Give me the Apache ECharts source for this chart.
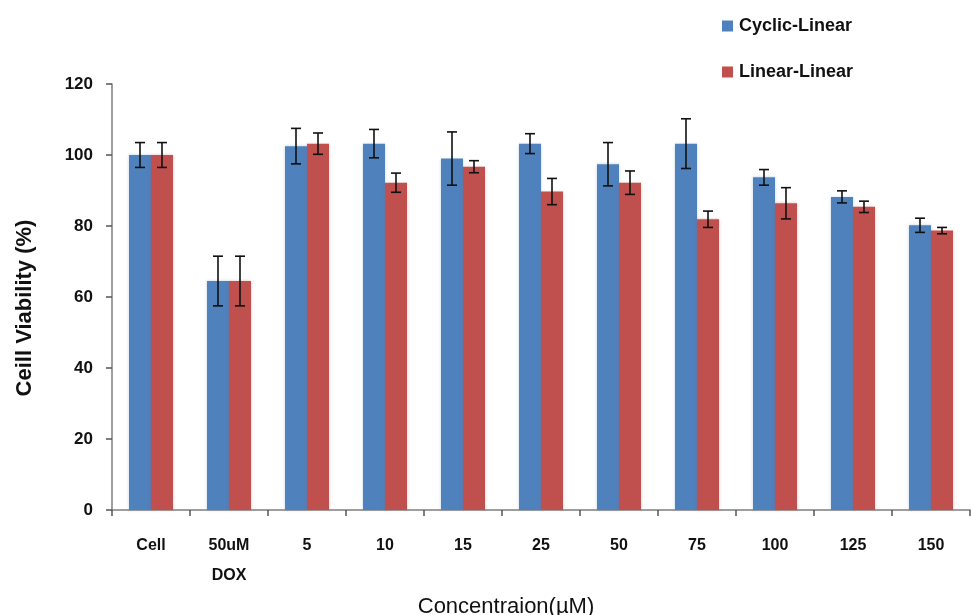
<!DOCTYPE html>
<html>
<head>
<meta charset="utf-8">
<script src="https://cdn.jsdelivr.net/npm/echarts@6/dist/echarts.min.js"></script>
<style>
html, body { margin: 0; padding: 0; background: #fff; }
#chart { width: 971px; height: 615px; }
</style>
</head>
<body>
<div id="chart"></div>
<script>
const categories = ['Cell', '50uM\nDOX', '5', '10', '15', '25', '50', '75', '100', '125', '150']
const cyclic = [100, 64.5, 102.5, 103.2, 99, 103.2, 97.4, 103.2, 93.7, 88.2, 80.2]
const cyclicErr = [3.5, 7, 5, 4, 7.5, 2.8, 6.1, 7, 2.2, 1.7, 2]
const linear = [100, 64.5, 103.2, 92.2, 96.7, 89.7, 92.2, 81.9, 86.4, 85.4, 78.7]
const linearErr = [3.5, 7, 3, 2.7, 1.7, 3.7, 3.3, 2.3, 4.4, 1.6, 0.9]
const yTicks = { min: 0, max: 120, interval: 20 }

const font = '"Liberation Sans", sans-serif'
const barW = 22

function errorSeries(name, vals, errs, offset) {
    return {
        name: name,
        type: 'custom',
        z: 10,
        data: vals.map((v, i) => [i, v - errs[i], v + errs[i]]),
        renderItem: (params, api) => {
            let lo = api.coord([api.value(0), api.value(1)])
            let hi = api.coord([api.value(0), api.value(2)])
            let x = lo[0] + offset
            let cap = 5
            let style = { stroke: '#111', lineWidth: 1.6 }
            return {
                type: 'group',
                children: [
                    { type: 'line', shape: { x1: x, y1: lo[1], x2: x, y2: hi[1] }, style: style },
                    { type: 'line', shape: { x1: x - cap, y1: lo[1], x2: x + cap, y2: lo[1] }, style: style },
                    { type: 'line', shape: { x1: x - cap, y1: hi[1], x2: x + cap, y2: hi[1] }, style: style }
                ]
            }
        }
    }
}

let chart = echarts.init(document.getElementById('chart'))
let option = {
    animation: false,
    textStyle: { fontFamily: font },
    grid: { left: 112, right: 1, top: 84, bottom: 105, outerBoundsMode: 'none' },
    legend: {
        orient: 'vertical',
        left: 717,
        top: 12,
        itemWidth: 11,
        itemHeight: 11,
        itemGap: 28,
        icon: 'rect',
        data: ['Cyclic-Linear', 'Linear-Linear'],
        textStyle: { fontFamily: font, fontSize: 18, fontWeight: 'bold', color: '#111', padding: [0, 0, 0, 1] }
    },
    xAxis: {
        type: 'category',
        data: categories,
        name: 'Concentraion(µM)',
        nameLocation: 'middle',
        nameGap: 73,
        nameTextStyle: { fontFamily: font, fontSize: 22, color: '#111', padding: [0, 70, 0, 0] },
        axisLine: { lineStyle: { color: '#7f7f7f', width: 1.5 } },
        axisTick: { show: true, length: 6, lineStyle: { color: '#555', width: 1.5 } },
        axisLabel: { margin: 21, fontSize: 16, fontWeight: 'bold', color: '#111', lineHeight: 30 }
    },
    yAxis: {
        type: 'value',
        min: yTicks.min,
        max: yTicks.max,
        interval: yTicks.interval,
        name: 'Ceill Viability (%)',
        nameLocation: 'middle',
        nameGap: 76,
        nameTextStyle: { fontFamily: font, fontSize: 22, fontWeight: 'bold', color: '#111', padding: [0, 22, 0, 0] },
        axisLine: { show: true, lineStyle: { color: '#7f7f7f', width: 1.5 } },
        axisTick: { show: true, length: 6, lineStyle: { color: '#555', width: 1.5 } },
        axisLabel: { margin: 19, fontSize: 17, fontWeight: 'bold', color: '#111' },
        splitLine: { show: false }
    },
    series: [
        {
            name: 'Cyclic-Linear',
            type: 'bar',
            barWidth: barW,
            barGap: '0%',
            itemStyle: { color: '#4F81BD', shadowColor: 'rgba(79,129,189,0.35)', shadowBlur: 3 },
            data: cyclic
        },
        {
            name: 'Linear-Linear',
            type: 'bar',
            barWidth: barW,
            barGap: '0%',
            itemStyle: { color: '#C0504D', shadowColor: 'rgba(192,80,77,0.35)', shadowBlur: 3 },
            data: linear
        },
        errorSeries('Cyclic-Linear', cyclic, cyclicErr, -barW / 2),
        errorSeries('Linear-Linear', linear, linearErr, barW / 2)
    ]
}
chart.setOption(option)
</script>
</body>
</html>
